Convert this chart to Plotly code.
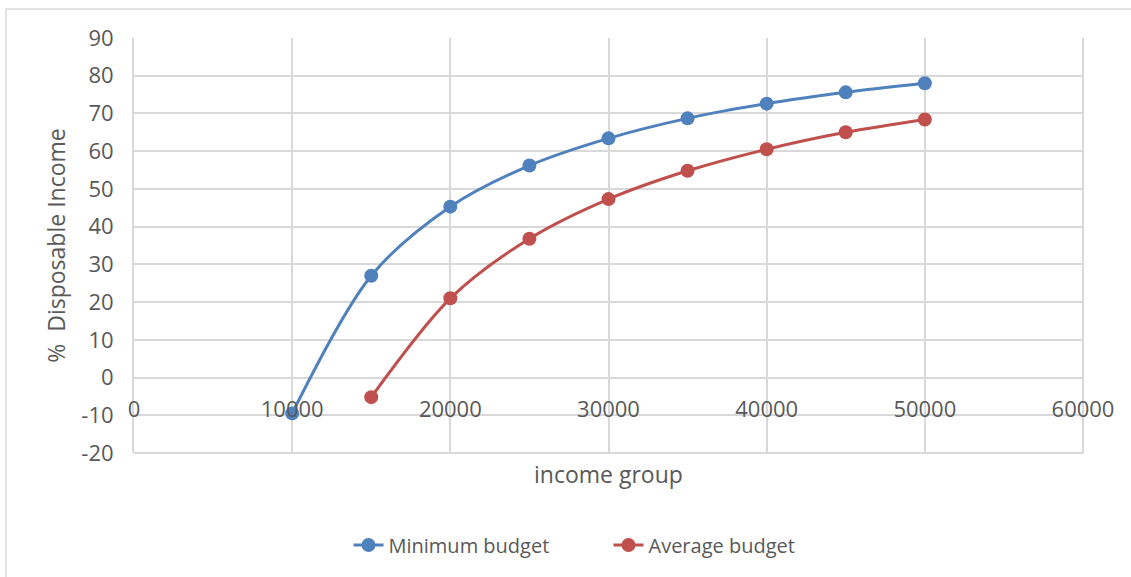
import plotly.graph_objects as go

# income groups and the share of disposable income left after each budget
income = [10000, 15000, 20000, 25000, 30000, 35000, 40000, 45000, 50000]
minimum_budget = [-9.5, 27.0, 45.3, 56.2, 63.4, 68.7, 72.6, 75.6, 78.0]
average_income = [15000, 20000, 25000, 30000, 35000, 40000, 45000, 50000]
average_budget = [-5.2, 21.0, 36.8, 47.3, 54.8, 60.5, 65.0, 68.4]

x_ticks = [0, 10000, 20000, 30000, 40000, 50000, 60000]
y_ticks = [-20, -10, 0, 10, 20, 30, 40, 50, 60, 70, 80, 90]

BLUE = "#4F81BD"
RED = "#C0504D"
GRID = "#D9D9D9"
TEXT = "#595959"
FONT = "Open Sans"

W, H = 1131, 577
L, R, T, B = 134, 48, 38, 124
pw, ph = W - L - R, H - T - B


def px_x(p):
    return (p - L) / pw


def px_y(p):
    return (H - B - p) / ph


fig = go.Figure()
fig.add_trace(go.Scatter(
    x=income, y=minimum_budget, name="Minimum budget",
    mode="lines+markers", line=dict(color=BLUE, width=3, shape="spline", smoothing=0.9),
    marker=dict(color=BLUE, size=14),
))
fig.add_trace(go.Scatter(
    x=average_income, y=average_budget, name="Average budget",
    mode="lines+markers", line=dict(color=RED, width=3, shape="spline", smoothing=0.9),
    marker=dict(color=RED, size=14),
))

fig.update_layout(
    width=W, height=H,
    margin=dict(l=L, r=R, t=T, b=B),
    paper_bgcolor="white", plot_bgcolor="white",
    font=dict(family=FONT, size=20, color=TEXT),
    showlegend=True,
    legend=dict(orientation="h", x=0.5, xanchor="center", y=px_y(545), yanchor="middle",
                font=dict(size=20, color=TEXT), entrywidth=215, traceorder="normal"),
    xaxis=dict(
        range=[0, 60000], tickvals=x_ticks, ticktext=[str(v) for v in x_ticks],
        showgrid=True, gridcolor=GRID, gridwidth=2, zeroline=False,
        showline=False, ticks="", anchor="free", position=20 / 110,
        ticklabelstandoff=16, tickfont=dict(size=22, color=TEXT),
    ),
    yaxis=dict(
        range=[-20, 90], tickvals=y_ticks, ticktext=[str(v) for v in y_ticks],
        showgrid=True, gridcolor=GRID, gridwidth=2,
        zeroline=False, showline=True, linecolor=GRID, linewidth=2, ticks="",
        ticklabelstandoff=14, tickfont=dict(size=22, color=TEXT),
        title=dict(text="%\u00a0 Disposable Income", font=dict(size=23, color=TEXT), standoff=9),
    ),
    annotations=[dict(
        text="income group", xref="paper", yref="paper", x=0.5, y=px_y(474),
        xanchor="center", yanchor="middle", showarrow=False,
        font=dict(size=23, color=TEXT),
    )],
    shapes=[
        dict(type="rect", xref="paper", yref="paper", x0=px_x(6), y0=px_y(585),
             x1=px_x(1140), y1=px_y(9), line=dict(color=GRID, width=1.5), layer="below"),
        dict(type="line", xref="paper", yref="paper", x0=1, x1=1, y0=0, y1=1,
             line=dict(color=GRID, width=2), layer="below"),
        dict(type="line", xref="paper", yref="paper", x0=0, x1=1, y0=0, y1=0,
             line=dict(color=GRID, width=2), layer="below"),
    ],
)

fig.write_html("out.html")
